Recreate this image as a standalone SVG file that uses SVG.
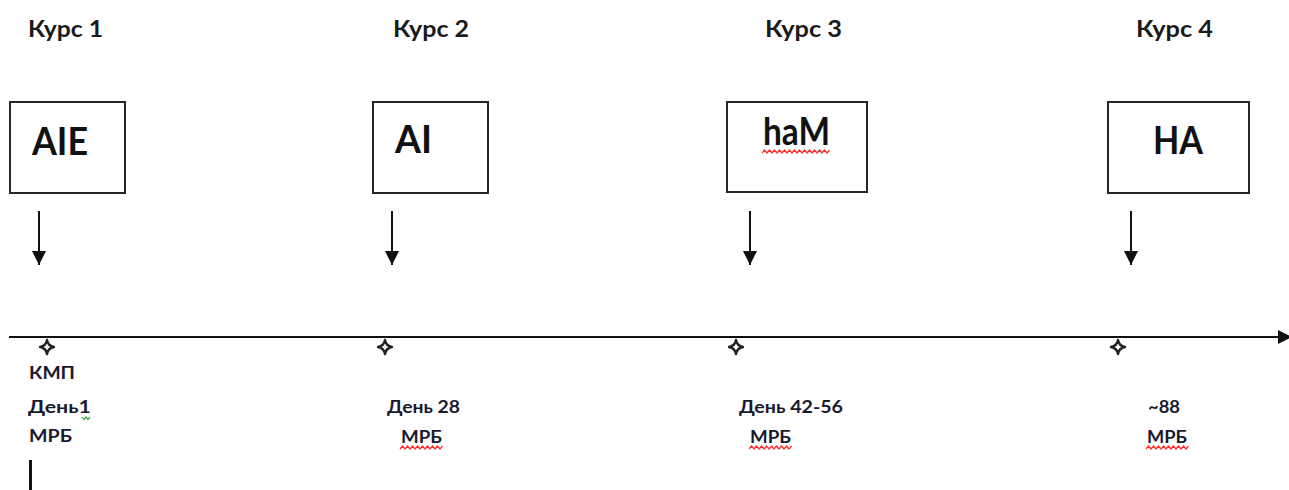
<svg xmlns="http://www.w3.org/2000/svg" width="1289" height="490" viewBox="0 0 1289 490">
<style>
.box{fill:#fff;stroke:#262626;stroke-width:2}
.big{font-family:Lato,"Liberation Sans",sans-serif;font-weight:bold;font-size:38px;fill:#111}
.course{font-family:Lato,"Liberation Sans",sans-serif;font-weight:bold;font-size:22px;fill:#1a1a1a}
.lbl{font-family:Lato,"Liberation Sans",sans-serif;font-weight:bold;font-size:16.5px;fill:#1a1a2e}
.arr{stroke:#111;stroke-width:2;fill:none}
.star{fill:#fff;stroke:#222;stroke-width:2.4;stroke-linejoin:round}
.wavy{fill:none;stroke:#ff2a2a;stroke-width:1.2}
</style>
<defs>
<marker id="ah" viewBox="0 0 10 10" refX="10" refY="5" markerWidth="7" markerHeight="8" markerUnits="strokeWidth" orient="auto">
<path d="M0,0 L10,5 L0,10 Z" fill="#111"/>
</marker>
<path id="st" d="M0,-7 Q1,-1 7,0 Q1,1 0,7 Q-1,1 -7,0 Q-1,-1 0,-7 Z"/>
</defs>
<rect width="1289" height="490" fill="#fff"/>

<g id="course-labels">
<text class="course" x="28" y="37" textLength="75" lengthAdjust="spacingAndGlyphs">Курс 1</text>
<text class="course" x="393" y="37" textLength="76" lengthAdjust="spacingAndGlyphs">Курс 2</text>
<text class="course" x="765" y="37" textLength="77" lengthAdjust="spacingAndGlyphs">Курс 3</text>
<text class="course" x="1136" y="37" textLength="77" lengthAdjust="spacingAndGlyphs">Курс 4</text>
</g>

<g id="node-aie">
<rect class="box" x="10" y="102" width="115" height="91"/>
<text class="big" x="32" y="155" textLength="56" lengthAdjust="spacingAndGlyphs">AIE</text>
</g>
<g id="node-ai">
<rect class="box" x="373" y="102" width="115" height="91"/>
<text class="big" x="395" y="153" textLength="37" lengthAdjust="spacingAndGlyphs">AI</text>
</g>
<g id="node-ham">
<rect class="box" x="727" y="102" width="140" height="90"/>
<text class="big" x="763" y="145" textLength="67" lengthAdjust="spacingAndGlyphs">haM</text>
<path class="wavy" d="M762,153 l2.5,-3 l2.5,3 l2.5,-3 l2.5,3 l2.5,-3 l2.5,3 l2.5,-3 l2.5,3 l2.5,-3 l2.5,3 l2.5,-3 l2.5,3 l2.5,-3 l2.5,3 l2.5,-3 l2.5,3 l2.5,-3 l2.5,3 l2.5,-3 l2.5,3 l2.5,-3 l2.5,3 l2.5,-3 l2.5,3 l2.5,-3 l2.5,3 l2.5,-3"/>
</g>
<g id="node-ha">
<rect class="box" x="1108" y="102" width="141" height="91"/>
<text class="big" x="1153" y="154" textLength="50" lengthAdjust="spacingAndGlyphs">HA</text>
</g>

<g id="connectors">
<line class="arr" x1="39" y1="211" x2="39" y2="265" marker-end="url(#ah)"/>
<line class="arr" x1="392" y1="211" x2="392" y2="265" marker-end="url(#ah)"/>
<line class="arr" x1="750" y1="211" x2="750" y2="265" marker-end="url(#ah)"/>
<line class="arr" x1="1131" y1="211" x2="1131" y2="265" marker-end="url(#ah)"/>
<line class="arr" x1="9" y1="337" x2="1292" y2="337" marker-end="url(#ah)"/>
</g>

<g id="timeline-marks">
<use href="#st" class="star" x="47" y="347"/>
<use href="#st" class="star" x="385" y="347"/>
<use href="#st" class="star" x="736" y="347"/>
<use href="#st" class="star" x="1118" y="347"/>
</g>

<g id="timeline-labels">
<text class="lbl" x="29" y="379" textLength="46" lengthAdjust="spacingAndGlyphs">КМП</text>
<text class="lbl" x="28" y="413" textLength="63" lengthAdjust="spacingAndGlyphs">День1</text>
<path d="M82,417 l2,2.5 l2,-2.5 l2,2.5 l2,-2.5" fill="none" stroke="#2a9a2a" stroke-width="1.2"/>
<text class="lbl" x="29" y="442" textLength="43" lengthAdjust="spacingAndGlyphs">МРБ</text>
<rect x="29" y="460" width="3" height="30" fill="#111"/>

<text class="lbl" x="387" y="413" textLength="73" lengthAdjust="spacingAndGlyphs">День 28</text>
<text class="lbl" x="401" y="443" textLength="41" lengthAdjust="spacingAndGlyphs">МРБ</text>
<path class="wavy" d="M400,449 l2.5,-3 l2.5,3 l2.5,-3 l2.5,3 l2.5,-3 l2.5,3 l2.5,-3 l2.5,3 l2.5,-3 l2.5,3 l2.5,-3 l2.5,3 l2.5,-3 l2.5,3 l2.5,-3 l2.5,3 l2.5,-3"/>

<text class="lbl" x="739" y="413" textLength="104" lengthAdjust="spacingAndGlyphs">День 42-56</text>
<text class="lbl" x="750" y="443" textLength="41" lengthAdjust="spacingAndGlyphs">МРБ</text>
<path class="wavy" d="M749,449 l2.5,-3 l2.5,3 l2.5,-3 l2.5,3 l2.5,-3 l2.5,3 l2.5,-3 l2.5,3 l2.5,-3 l2.5,3 l2.5,-3 l2.5,3 l2.5,-3 l2.5,3 l2.5,-3 l2.5,3 l2.5,-3"/>

<text class="lbl" x="1148" y="413" textLength="32" lengthAdjust="spacingAndGlyphs">~88</text>
<text class="lbl" x="1147" y="443" textLength="40" lengthAdjust="spacingAndGlyphs">МРБ</text>
<path class="wavy" d="M1146,449 l2.5,-3 l2.5,3 l2.5,-3 l2.5,3 l2.5,-3 l2.5,3 l2.5,-3 l2.5,3 l2.5,-3 l2.5,3 l2.5,-3 l2.5,3 l2.5,-3 l2.5,3 l2.5,-3 l2.5,3 l2.5,-3"/>
</g>
</svg>
